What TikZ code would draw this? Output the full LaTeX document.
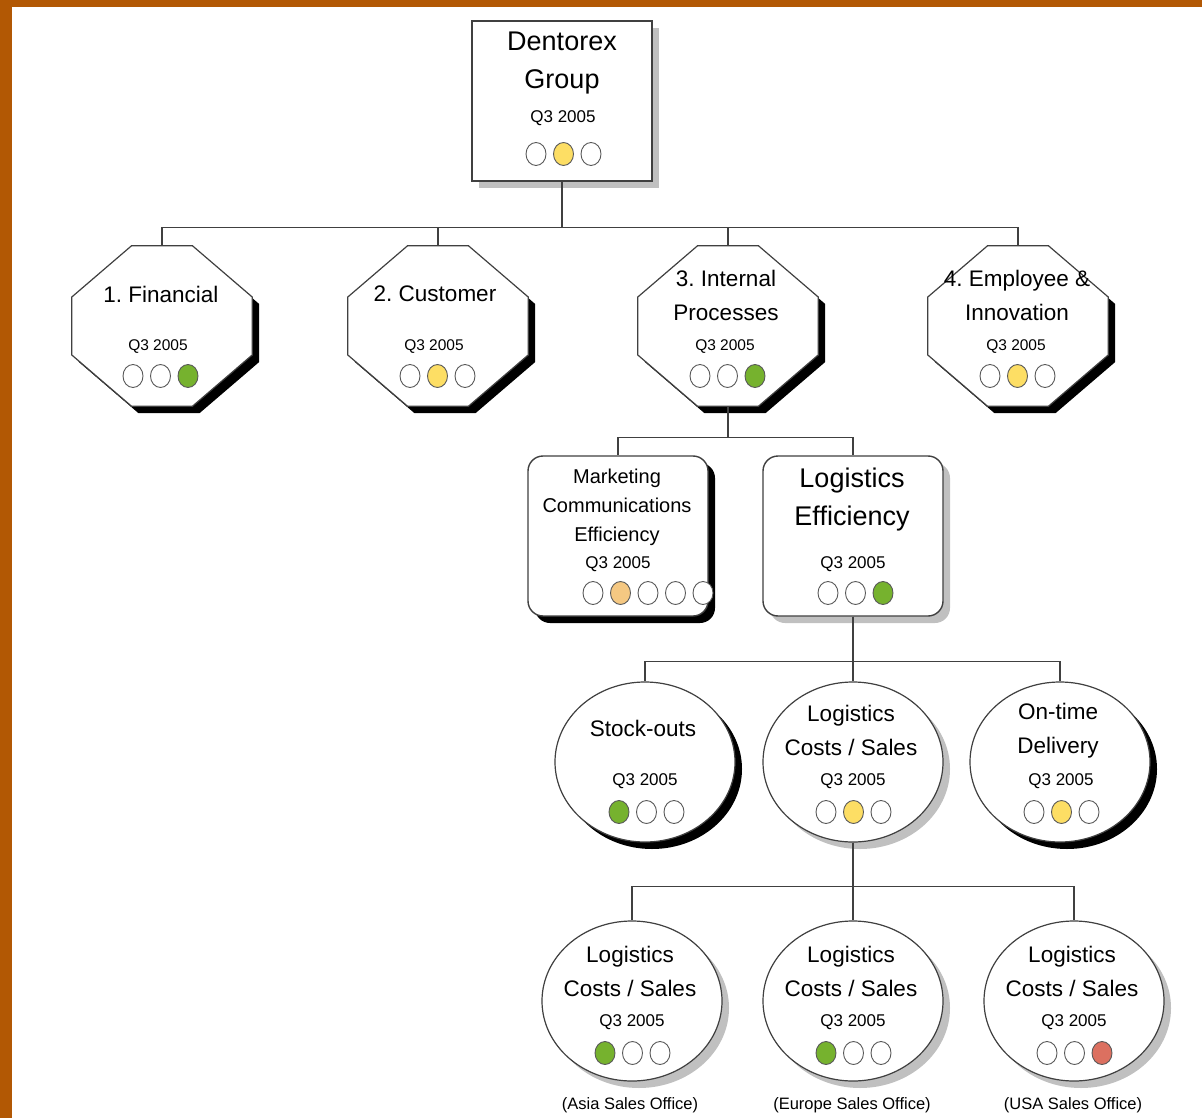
\documentclass[tikz,border=0pt]{standalone}
\usepackage{fontspec}
\setmainfont{Liberation Sans}
\usetikzlibrary{shapes.geometric,shadows}

\definecolor{frameorange}{RGB}{178,88,4}
\definecolor{linegray}{RGB}{64,64,64}
\definecolor{shadowgray}{RGB}{192,192,192}
\definecolor{ledgreen}{RGB}{118,178,46}
\definecolor{ledyellow}{RGB}{253,222,100}
\definecolor{ledorange}{RGB}{245,200,130}
\definecolor{ledred}{RGB}{220,112,96}

% row of status lights: name, first x, y, fills
\newcommand{\lamps}[4]{%
  \foreach \c [count=\i] in {#4}
    \node[lamp, fill=\c] (#1-\i) at ({#2+27.5*(\i-1)},#3) {};
}

% octagon outline round a node
\newcommand{\octopath}[1]{([xshift=-30.5pt]#1.north) -- ([xshift=30.5pt]#1.north)
  -- ([yshift=29pt]#1.east) -- ([yshift=-29pt]#1.east)
  -- ([xshift=30.5pt]#1.south) -- ([xshift=-30.5pt]#1.south)
  -- ([yshift=-29pt]#1.west) -- ([yshift=29pt]#1.west) -- cycle}

\begin{document}
\frenchspacing
\begin{tikzpicture}[x=1pt, y=-1pt,
    conn/.style={draw=linegray, line width=1.4pt},
    blackshadow/.style={drop shadow={shadow xshift=7pt, shadow yshift=-7pt, fill=black, opacity=1}},
    grayshadow/.style={drop shadow={shadow xshift=7pt, shadow yshift=-7pt, fill=shadowgray, opacity=1}},
    card/.style={draw=linegray, line width=1.4pt, fill=white, rectangle, minimum width=180, minimum height=160, inner sep=0},
    octo/.style={rectangle, minimum width=180, minimum height=160, inner sep=0},
    octoline/.style={draw=linegray, line width=1.2pt, fill=white, blackshadow},
    bubble/.style={draw=linegray, line width=1.2pt, fill=white, ellipse, minimum width=180, minimum height=160, inner sep=0},
    lamp/.style={draw=black!65, line width=0.9pt, ellipse, minimum width=20, minimum height=23, inner sep=0},
    bigtxt/.style={font=\fontsize{27}{38}\selectfont, align=center, inner sep=0},
    midtxt/.style={font=\fontsize{22.5}{34}\selectfont, align=center, inner sep=0},
    smalltxt/.style={font=\fontsize{20}{29}\selectfont, align=center, inner sep=0},
    datetxt/.style={font=\fontsize{17}{20}\selectfont, inner sep=0},
    octdate/.style={font=\fontsize{15.5}{18}\selectfont, inner sep=0},
    officetxt/.style={font=\fontsize{16.5}{20}\selectfont, inner sep=0}
  ]

  \useasboundingbox (0,0) rectangle (1202,1118);

  % Frame
  \fill[frameorange] (0,0) rectangle (1202,1118);
  \fill[white] (12,7) rectangle (1202,1118);

  % Group (top)
  \node[card, grayshadow] (dentorex) at (562,101) {};
  \node[bigtxt] (dentorex-t) at (562,63) {Dentorex\\Group};
  \node[datetxt] (dentorex-d) at (563,118) {Q3 2005};
  \lamps{dentorex}{536}{154}{white,ledyellow,white}

  % Perspectives
  \node[octo] (financial) at (162,326) {};
  \node[octo] (customer) at (438,326) {};
  \node[octo] (internal) at (728,326) {};
  \node[octo] (employee) at (1018,326) {};
  \foreach \n in {financial,customer,internal,employee}
    \draw[octoline] \octopath{\n};

  \node[midtxt] (financial-t) at (161,294) {1. Financial};
  \node[octdate] (financial-d) at (158,347) {Q3 2005};
  \lamps{financial}{133}{376}{white,white,ledgreen}

  \node[midtxt] (customer-t) at (435,294) {2. Customer};
  \node[octdate] (customer-d) at (434,347) {Q3 2005};
  \lamps{customer}{410}{376}{white,ledyellow,white}

  \node[midtxt] (internal-t) at (726,295) {3. Internal\\Processes};
  \node[octdate] (internal-d) at (725,347) {Q3 2005};
  \lamps{internal}{700}{376}{white,white,ledgreen}

  \node[midtxt] (employee-t) at (1017,295) {4. Employee \&\\Innovation};
  \node[octdate] (employee-d) at (1016,347) {Q3 2005};
  \lamps{employee}{990}{376}{white,ledyellow,white}

  \foreach \n in {financial,customer,internal,employee}
    \draw[conn] (dentorex.south) -- ++(0,46) -| (\n.north);

  % Objectives under internal processes
  \node[card, rounded corners=15, blackshadow] (marketing) at (618,536) {};
  \node[smalltxt] (marketing-t) at (617,507) {Marketing\\Communications\\Efficiency};
  \node[datetxt] (marketing-d) at (618,564) {Q3 2005};
  \lamps{marketing}{593}{593}{white,ledorange,white,white,white}

  \node[card, rounded corners=15, grayshadow] (logeff) at (853,536) {};
  \node[bigtxt] (logeff-t) at (852,500) {Logistics\\Efficiency};
  \node[datetxt] (logeff-d) at (853,564) {Q3 2005};
  \lamps{logeff}{828}{593}{white,white,ledgreen}

  \foreach \n in {marketing,logeff}
    \draw[conn] (internal.south) -- ++(0,31) -| (\n.north);

  % Measures
  \node[bubble, blackshadow] (stockouts) at (645,762) {};
  \node[midtxt] (stockouts-t) at (643,728) {Stock-outs};
  \node[datetxt] (stockouts-d) at (645,781) {Q3 2005};
  \lamps{stockouts}{619}{812}{ledgreen,white,white}

  \node[bubble, grayshadow] (logcost) at (853,762) {};
  \node[midtxt] (logcost-t) at (851,730) {Logistics\\Costs / Sales};
  \node[datetxt] (logcost-d) at (853,781) {Q3 2005};
  \lamps{logcost}{826}{812}{white,ledyellow,white}

  \node[bubble, blackshadow] (ontime) at (1060,762) {};
  \node[midtxt] (ontime-t) at (1058,731) {On-time\\Delivery};
  \node[datetxt] (ontime-d) at (1061,781) {Q3 2005};
  \lamps{ontime}{1034}{812}{white,ledyellow,white}

  \foreach \n in {stockouts,logcost,ontime}
    \draw[conn] (logeff.south) -- ++(0,45) -| (\n.north);

  % Sales offices
  \node[bubble, grayshadow] (asia) at (632,1001) {};
  \node[midtxt] (asia-t) at (630,971) {Logistics\\Costs / Sales};
  \node[datetxt] (asia-d) at (632,1022) {Q3 2005};
  \lamps{asia}{605}{1053}{ledgreen,white,white}
  \node[officetxt] (asia-o) at (630,1105) {(Asia Sales Office)};

  \node[bubble, grayshadow] (europe) at (853,1001) {};
  \node[midtxt] (europe-t) at (851,971) {Logistics\\Costs / Sales};
  \node[datetxt] (europe-d) at (853,1022) {Q3 2005};
  \lamps{europe}{826}{1053}{ledgreen,white,white}
  \node[officetxt] (europe-o) at (852,1105) {(Europe Sales Office)};

  \node[bubble, grayshadow] (usa) at (1074,1001) {};
  \node[midtxt] (usa-t) at (1072,971) {Logistics\\Costs / Sales};
  \node[datetxt] (usa-d) at (1074,1022) {Q3 2005};
  \lamps{usa}{1047}{1053}{white,white,ledred}
  \node[officetxt] (usa-o) at (1073,1105) {(USA Sales Office)};

  \foreach \n in {asia,europe,usa}
    \draw[conn] (logcost.south) -- ++(0,44) -| (\n.north);

\end{tikzpicture}
\end{document}
